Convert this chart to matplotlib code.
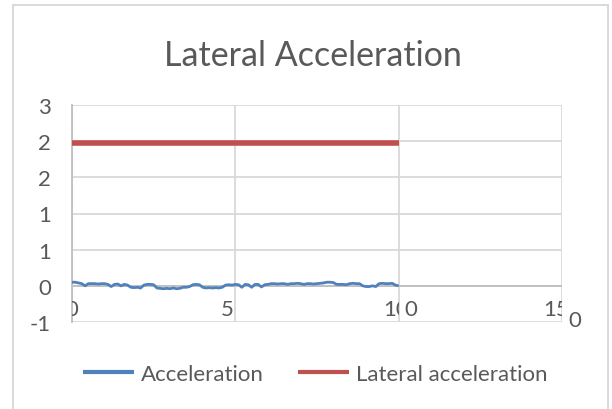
import matplotlib
matplotlib.use("Agg")
import matplotlib.pyplot as plt
from matplotlib.patches import Rectangle
from matplotlib.ticker import FuncFormatter, MultipleLocator
import math

# Sample index and measured acceleration trace
sample = list(range(0, 101))
acceleration = [
    0.05, 0.05, 0.04, 0.03, 0.00, 0.03, 0.03, 0.03, 0.025, 0.03,
    0.03, 0.02, -0.01, 0.02, 0.025, 0.00, 0.02, 0.01, -0.02, -0.025,
    -0.02, -0.03, 0.01, 0.02, 0.02, 0.015, -0.03, -0.035, -0.04, -0.035,
    -0.04, -0.03, -0.04, -0.035, -0.02, -0.02, -0.01, 0.015, 0.02, 0.015,
    -0.02, -0.03, -0.025, -0.03, -0.025, -0.03, -0.02, 0.01, 0.015, 0.01,
    0.02, 0.015, -0.02, 0.02, 0.015, -0.02, 0.02, 0.02, -0.015, 0.015,
    0.02, 0.03, 0.03, 0.025, 0.03, 0.03, 0.02, 0.03, 0.03, 0.035,
    0.03, 0.02, 0.03, 0.03, 0.025, 0.03, 0.035, 0.04, 0.05, 0.05,
    0.045, 0.02, 0.02, 0.02, 0.015, 0.03, 0.035, 0.03, 0.03, 0.0,
    -0.01, -0.01, 0.0, -0.01, 0.03, 0.035, 0.03, 0.03, 0.035, 0.01,
    0.0,
]

# Lateral acceleration limit (constant over the run)
lateral_x = [0, 100]
lateral_acc = [1.97, 1.97]

title = "Lateral Acceleration"
series_names = ["Acceleration", "Lateral acceleration"]

BLUE = "#4F81BD"
RED = "#C0504D"
GRID = "#D9D9D9"
AXIS = "#BFBFBF"
TEXT = "#595959"
FONT = "Lato"

plt.rcParams["font.family"] = [FONT, "DejaVu Sans"]

fig = plt.figure(figsize=(6.12, 4.10), dpi=100)
fig.patch.set_facecolor("white")

# chart border
W, H = 612, 410
fig.patches.append(Rectangle((13 / W, -0.05), (608 - 13) / W, 1.05 - 6 / H,
                             transform=fig.transFigure, fill=False,
                             edgecolor=GRID, linewidth=1.4, zorder=0))

ax = fig.add_axes([72 / W, 1 - 323 / H, (562 - 72) / W, (323 - 106) / H])
ax.set_xlim(0, 150)
ax.set_ylim(-0.5, 2.5)

ax.yaxis.set_major_locator(MultipleLocator(0.5))
ax.xaxis.set_major_locator(MultipleLocator(50))


def excel_round(v, pos):
    r = math.floor(abs(v) + 0.5 + 1e-9)
    r = -r if v < 0 else r
    return f"{r:d}"


ax.yaxis.set_major_formatter(FuncFormatter(excel_round))
ax.tick_params(axis="y", length=0, pad=15, labelsize=16, labelcolor=TEXT)
ax.tick_params(axis="x", length=0, labelbottom=False)
ax.grid(True, color=GRID, linewidth=1.3)
ax.set_axisbelow(True)
for side in ("top", "right", "bottom"):
    ax.spines[side].set_visible(False)
ax.spines["left"].set_color(AXIS)
ax.spines["left"].set_linewidth(1.3)
ax.axhline(0, color=AXIS, linewidth=1.3, zorder=1.5)

ax.plot(lateral_x, lateral_acc, color=RED, linewidth=4.0,
        solid_capstyle="butt", zorder=3, label=series_names[1])
ax.plot(sample, acceleration, color=BLUE, linewidth=2.0,
        solid_capstyle="butt", zorder=3, label=series_names[0])

# category labels sitting on the zero line, partly overdrawn
lab_kw = dict(fontsize=16, color=TEXT, va="center")
ylab = -0.32


def clipped(x, y, s, ha, x0, x1):
    t = ax.text(x, y, s, ha=ha, **lab_kw)
    clip = Rectangle((x0, -1), x1 - x0, 2, transform=ax.transData)
    t.set_clip_path(clip)
    t.set_clip_on(True)
    return t


clipped(0, ylab, "0", "center", 0, 10)
ax.text(49.6, ylab, "5", ha="right", **lab_kw)
clipped(95.3, ylab, "10", "left", 80, 100)
ax.text(101.6, ylab, "0", ha="left", **lab_kw)
clipped(144.3, ylab, "15", "left", 130, 150)
ax.text(152.0, -0.47, "0", ha="left", clip_on=False, **lab_kw)

fig.text(0.512, 1 - 56 / H, title, ha="center", va="center",
         fontsize=24.5, color=TEXT)

handles, labels = ax.get_legend_handles_labels()
order = [1, 0]
leg = fig.legend([handles[i] for i in order], [labels[i] for i in order],
                 loc="center", bbox_to_anchor=(0.5 + 9 / W, 1 - 375 / H),
                 ncol=2, frameon=False, fontsize=16, handlelength=2.3,
                 handletextpad=0.3, columnspacing=1.55, labelcolor=TEXT)
for line in leg.get_lines():
    line.set_linewidth(3.0)

fig.savefig("out.png", dpi=100, facecolor="white")
